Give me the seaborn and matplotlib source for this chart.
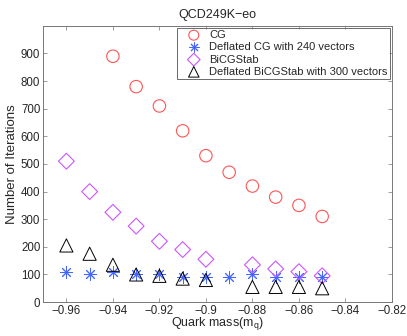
import numpy as np
import pandas as pd
import seaborn as sns
import matplotlib
matplotlib.use("Agg")
import matplotlib.pyplot as plt

# values
cg_x = [-0.94, -0.93, -0.92, -0.91, -0.90, -0.89, -0.88, -0.87, -0.86, -0.85]
cg_y = [890, 780, 710, 620, 530, 470, 420, 380, 350, 310]

dcg_x = [-0.96, -0.95, -0.94, -0.93, -0.92, -0.91, -0.90, -0.89, -0.88, -0.87, -0.86, -0.85]
dcg_y = [110, 100, 110, 100, 100, 90, 90, 90, 100, 90, 90, 90]

bicg_x = [-0.96, -0.95, -0.94, -0.93, -0.92, -0.91, -0.90, -0.88, -0.87, -0.86, -0.85]
bicg_y = [510, 400, 325, 275, 220, 190, 155, 135, 120, 110, 95]

dbicg_x = [-0.96, -0.95, -0.94, -0.93, -0.92, -0.91, -0.90, -0.88, -0.87, -0.86, -0.85]
dbicg_y = [205, 175, 135, 100, 95, 85, 80, 55, 55, 55, 50]

labels = ["CG", "Deflated CG with 240 vectors", "BiCGStab",
          "Deflated BiCGStab with 300 vectors"]
xtick_labels = ["\u22120.96", "\u22120.94", "\u22120.92", "\u22120.9",
                "\u22120.88", "\u22120.86", "\u22120.84", "\u22120.82"]

sns.set_style("ticks")
plt.rcParams["font.family"] = ["Liberation Sans", "DejaVu Sans"]
plt.rcParams["xtick.direction"] = "in"
plt.rcParams["ytick.direction"] = "in"
plt.rcParams["mathtext.fontset"] = "custom"
plt.rcParams["mathtext.rm"] = "Liberation Sans"
plt.rcParams["mathtext.it"] = "Liberation Sans"

fig = plt.figure(figsize=(4.07, 3.36), dpi=100)
ax = fig.add_axes([0.106, 0.101, 0.857, 0.822])

sns.scatterplot(x=cg_x, y=cg_y, ax=ax, marker="o", s=80, facecolors="none",
                edgecolor="#ff5555", linewidth=0.8, label=labels[0])
sns.scatterplot(x=dcg_x, y=dcg_y, ax=ax, marker=(8, 2, 0), s=70,
                color="#4466ff", linewidth=0.7, label=labels[1])
sns.scatterplot(x=bicg_x, y=bicg_y, ax=ax, marker="D", s=65, facecolors="none",
                edgecolor="#cc55ff", linewidth=0.8, label=labels[2])
sns.scatterplot(x=dbicg_x, y=dbicg_y, ax=ax, marker="^", s=90, facecolors="none",
                edgecolor="black", linewidth=0.7, label=labels[3])

ax.set_xlim(-0.97, -0.82)
ax.set_ylim(0, 1000)
ax.set_xticks(np.arange(-0.96, -0.819, 0.02))
ax.set_xticklabels(xtick_labels)
ax.set_yticks(range(0, 1000, 100))
ax.tick_params(labelsize=8.3, top=True, right=True, length=3, width=0.5,
               color="#777777", pad=2)
for sp in ax.spines.values():
    sp.set_linewidth(0.7)
    sp.set_color("#777777")

ax.set_title("QCD249K\u2212eo", fontsize=9, pad=6)
ax.set_xlabel("Quark mass(m$_q$)", fontsize=9, labelpad=-1)
ax.set_ylabel("Number of Iterations", fontsize=9.5, labelpad=2)

leg = ax.legend(loc="upper right", fontsize=8, frameon=True, fancybox=False,
                borderpad=0.18, labelspacing=0.2, handletextpad=0.1,
                handlelength=2.6, borderaxespad=0.2, markerscale=0.8)
leg.get_frame().set_edgecolor("#444444")
leg.get_frame().set_linewidth(0.7)

fig.savefig("out.png", dpi=100)
